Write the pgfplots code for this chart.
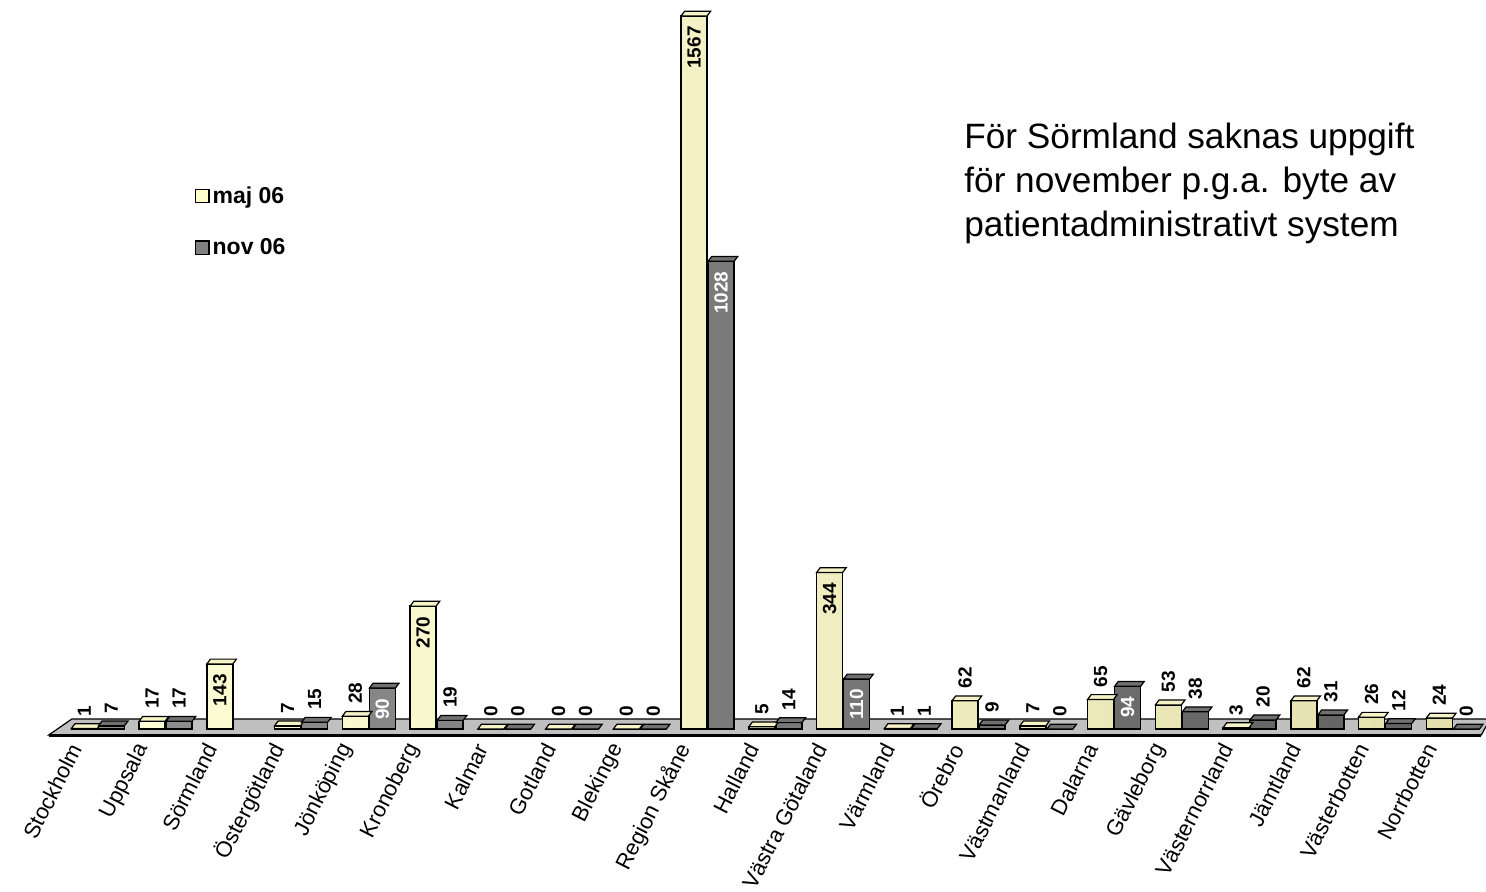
\documentclass[border=0pt]{standalone}
\usepackage{fontspec}
\setmainfont{Liberation Sans}
\usepackage{pgfplots}
\pgfplotsset{compat=1.18}
\usepackage{pgfplotstable}

\definecolor{majL}{HTML}{FFFFD8}
\definecolor{majM}{HTML}{FFFFCC}
\definecolor{majR}{HTML}{E4E0AE}
\definecolor{majcap}{HTML}{F6F3C6}
\definecolor{majleg}{HTML}{FFFFCC}
\definecolor{novL}{HTML}{909090}
\definecolor{novM}{HTML}{808080}
\definecolor{novR}{HTML}{606060}
\definecolor{novcap}{HTML}{707070}
\definecolor{novleg}{HTML}{808080}
\definecolor{floorgray}{HTML}{C0C0C0}

% flat top face of a cylinder, drawn at the top of each bar
\pgfdeclareplotmark{barcap}{%
  \pgfpathmoveto{\pgfpoint{-6.5pt}{0pt}}%
  \pgfpathlineto{\pgfpoint{6.5pt}{0pt}}%
  \pgfpathlineto{\pgfpoint{8.3pt}{2.4pt}}%
  \pgfpathlineto{\pgfpoint{-4.7pt}{2.4pt}}%
  \pgfpathclose
  \pgfusepathqfillstroke}

\newcommand{\valfont}{\bfseries\fontsize{9.5}{10}\selectfont}

% län, maj 06, nov 06 (Sörmland: no November figure)
\pgfplotstableread{
x maj nov
0 1 7
1 17 17
2 143 nan
3 7 15
4 28 90
5 270 19
6 0 0
7 0 0
8 0 0
9 1567 1028
10 5 14
11 344 110
12 1 1
13 62 9
14 7 0
15 65 94
16 53 38
17 3 20
18 62 31
19 26 12
20 24 0
}\data

\begin{document}
\begin{tikzpicture}
\useasboundingbox (0,0) rectangle (743pt,446pt);
\begin{axis}[
  at={(32pt,81.5pt)}, anchor=south west,
  scale only axis, width=711.375pt, height=364pt,
  xmin=-0.5, xmax=20.5, ymin=0, ymax=1600,
  clip=false,
  axis line style={draw=none},
  tick style={draw=none},
  ytick=\empty,
  xtick={0,...,20},
  xticklabels={Stockholm,Uppsala,Sörmland,Östergötland,Jönköping,Kronoberg,Kalmar,Gotland,Blekinge,Region Skåne,Halland,Västra Götaland,Värmland,Örebro,Västmanland,Dalarna,Gävleborg,Västernorrland,Jämtland,Västerbotten,Norrbotten},
  xticklabel style={font=\fontsize{11}{12}\selectfont, xshift=-11pt, yshift=-8pt, rotate=63, anchor=east, inner sep=0pt},
  /pgf/number format/assume math mode=true,
  /pgf/number format/1000 sep={},
  legend style={at={(0.092,0.75)}, anchor=north west, draw=none, fill=none,
    font=\bfseries\fontsize{11.5}{13}\selectfont, row sep=13pt,
    inner sep=0pt, nodes={inner sep=1.5pt}},
  legend cell align=left,
]
% floor of the chart
\fill[floorgray, draw=black, line width=0.6pt]
  (axis cs:-0.723,-13) -- (axis cs:-0.384,22) -- (axis cs:20.55,22) -- (axis cs:20.42,-13) -- cycle;
\draw[black, line width=1.4pt] (axis cs:-0.723,-14) -- (axis cs:20.42,-14);

% maj 06
\addplot[ybar, bar width=13pt, bar shift=-6.775pt, draw=black, line width=0.7pt,
  left color=majL, middle color=majM, right color=majR,
  legend image code/.code={\pgfsetfillcolor{majleg}\pgfsetstrokecolor{black}\pgfsetlinewidth{0.6pt}%
    \pgfpathrectangle{\pgfpoint{-2pt}{-3.3pt}}{\pgfpoint{6.6pt}{6.6pt}}\pgfusepath{fill,stroke}}]
  table[x=x, y=maj]{\data};
\addlegendentry{maj 06}
\addplot[forget plot, only marks, mark=barcap, mark options={fill=majcap, draw=black, line width=0.6pt}]
  table[x expr=\thisrow{x}-0.2, y=maj]{\data};

% nov 06
\addplot[ybar, bar width=13pt, bar shift=6.775pt, draw=black, line width=0.7pt,
  left color=novL, middle color=novM, right color=novR,
  legend image code/.code={\pgfsetfillcolor{novleg}\pgfsetstrokecolor{black}\pgfsetlinewidth{0.6pt}%
    \pgfpathrectangle{\pgfpoint{-2pt}{-3.3pt}}{\pgfpoint{6.6pt}{6.6pt}}\pgfusepath{fill,stroke}}]
  table[x=x, y=nov]{\data};
\addlegendentry{nov 06}
\addplot[forget plot, only marks, mark=barcap, mark options={fill=novcap, draw=black, line width=0.6pt}]
  table[x expr=\thisrow{x}+0.2, y=nov]{\data};

% value labels: above the short bars, inside the tall ones
\addplot[forget plot, draw=none, mark=none, nodes near coords, restrict y to domain=0:80,
  every node near coord/.append style={text=black, font=\valfont, yshift=5pt, rotate=90, anchor=west, inner sep=1pt}]
  table[x expr=\thisrow{x}-0.2, y=maj]{\data};
\addplot[forget plot, draw=none, mark=none, nodes near coords, restrict y to domain=81:2000,
  every node near coord/.append style={text=black, font=\valfont, yshift=-4pt, rotate=90, anchor=east, inner sep=1pt}]
  table[x expr=\thisrow{x}-0.2, y=maj]{\data};
\addplot[forget plot, draw=none, mark=none, nodes near coords, restrict y to domain=0:80,
  every node near coord/.append style={text=black, font=\valfont, yshift=5pt, rotate=90, anchor=west, inner sep=1pt}]
  table[x expr=\thisrow{x}+0.2, y=nov]{\data};
\addplot[forget plot, draw=none, mark=none, nodes near coords, restrict y to domain=81:2000,
  every node near coord/.append style={text=white, font=\valfont, yshift=-4pt, rotate=90, anchor=east, inner sep=1pt}]
  table[x expr=\thisrow{x}+0.2, y=nov]{\data};
\end{axis}
\node[anchor=north west, inner sep=0pt, align=left, font=\fontsize{17.6}{21.8}\selectfont]
  at (482pt,384.5pt) {För Sörmland saknas uppgift\\för november p.g.a. byte av\\patientadministrativt system};
\end{tikzpicture}
\end{document}
